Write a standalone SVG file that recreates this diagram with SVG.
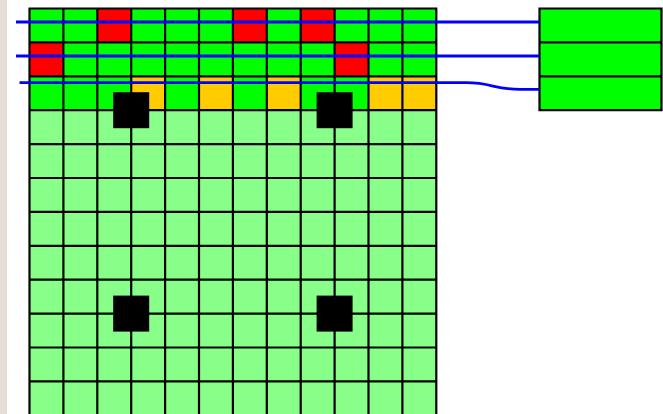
<svg xmlns="http://www.w3.org/2000/svg" width="663" height="414" viewBox="0 0 663 414">
  <style>
    .g { fill: #00FF00; }
    .lg { fill: #88FF88; }
    .r { fill: #FF0000; }
    .o { fill: #FFCC00; }
    .gl { fill: none; stroke: #000; stroke-width: 2.2; }
    .blk { fill: #000; }
    .wire { fill: none; stroke: #0000FF; stroke-width: 2.8; }
  </style>
  <rect x="0" y="0" width="663" height="414" fill="#FFFFFF"/>
  <rect x="0" y="0" width="7" height="414" fill="#E4DED6"/>
  <g id="grid">
    <rect class="g" x="29.5" y="8.5" width="406.8" height="101.7"/>
    <rect class="lg" x="29.5" y="110.2" width="406.8" height="310"/>
    <rect class="r" x="97.3" y="8.5" width="33.9" height="33.9"/>
    <rect class="r" x="232.9" y="8.5" width="33.9" height="33.9"/>
    <rect class="r" x="300.7" y="8.5" width="33.9" height="33.9"/>
    <rect class="r" x="29.5" y="42.4" width="33.9" height="33.9"/>
    <rect class="r" x="334.6" y="42.4" width="33.9" height="33.9"/>
    <rect class="o" x="131.2" y="76.3" width="33.9" height="33.9"/>
    <rect class="o" x="199.0" y="76.3" width="33.9" height="33.9"/>
    <rect class="o" x="266.8" y="76.3" width="33.9" height="33.9"/>
    <rect class="o" x="368.5" y="76.3" width="67.8" height="33.9"/>
    <path class="gl" d="M29.5 8.5V420M63.4 8.5V420M97.3 8.5V420M131.2 8.5V420M165.1 8.5V420M199 8.5V420M232.9 8.5V420M266.8 8.5V420M300.7 8.5V420M334.6 8.5V420M368.5 8.5V420M402.4 8.5V420M436.3 8.5V420M28.5 8.5H437.3M28.5 42.4H437.3M28.5 76.3H437.3M28.5 110.2H437.3M28.5 144.1H437.3M28.5 178H437.3M28.5 211.9H437.3M28.5 245.8H437.3M28.5 279.7H437.3M28.5 313.6H437.3M28.5 347.5H437.3M28.5 381.4H437.3"/>
  </g>
  <g id="block-1"><rect class="blk" x="113.2" y="92.2" width="36" height="36"/></g>
  <g id="block-2"><rect class="blk" x="316.6" y="92.2" width="36" height="36"/></g>
  <g id="block-3"><rect class="blk" x="113.2" y="295.6" width="36" height="36"/></g>
  <g id="block-4"><rect class="blk" x="316.6" y="295.6" width="36" height="36"/></g>
  <g id="right-box">
    <rect class="g" x="539.5" y="8.5" width="122" height="101.7"/>
    <path class="gl" d="M539.5 8.5H661.5V110.2H539.5ZM539.5 42.4H661.5M539.5 76.3H661.5"/>
  </g>
  <g id="connectors">
    <path class="wire" d="M16 22H539.5"/>
    <path class="wire" d="M16 56H539.5"/>
    <path class="wire" d="M19.5 82.7H466C492 82.7 494 89.4 520 89.4H539.5"/>
  </g>
</svg>
